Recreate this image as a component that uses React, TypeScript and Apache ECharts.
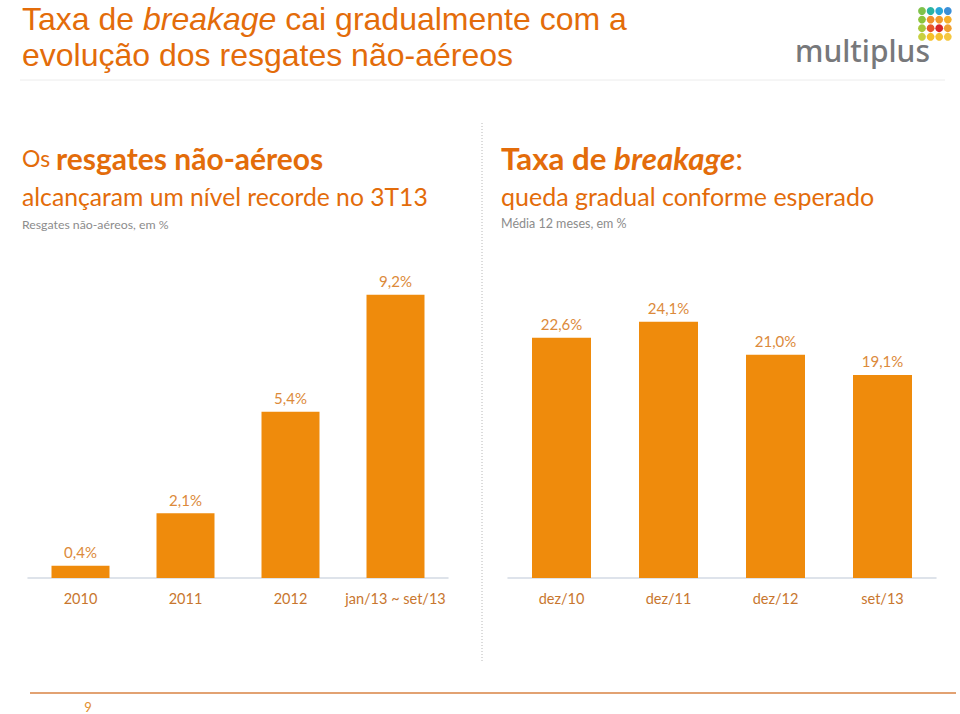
import React, { useEffect, useRef } from "react";
import * as echarts from "echarts";

const leftCategories = ["2010", "2011", "2012", "jan/13 ~ set/13"];
const leftValues = [0.4, 2.1, 5.4, 9.2];
const rightCategories = ["dez/10", "dez/11", "dez/12", "set/13"];
const rightValues = [22.6, 24.1, 21.0, 19.1];

const ORANGE = "#e36c0a";
const BAR = "#ef8b0c";
const LABEL = "#dc8a3a";
const AXISLABEL = "#c8762e";
const FONT = "Lato, 'Open Sans', sans-serif";

const logoRows = [
  ["#7fc24a", "#2ab3a3", "#28a6d8", "#3a8fd8"],
  ["#8cc43c", "#f0902a", "#f39a2a", "#f5b02a"],
  ["#a8c83a", "#e8562a", "#d8262a", "#f0a030"],
  ["#c8d040", "#f5c02a", "#f5c030", "#f5c840"],
];

const fmt = (p: any) => (p.value as number).toFixed(1).replace(".", ",") + "%";

export default function App() {
  const ref = useRef<HTMLDivElement>(null);
  useEffect(() => {
    document.body.style.margin = "0";
    const chart = echarts.init(ref.current!, null, { renderer: "svg" });
    const dots: any[] = [];
    logoRows.forEach((row, r) =>
      row.forEach((c, i) =>
        dots.push({
          type: "circle",
          shape: { cx: 922 + i * 8.6, cy: 11 + r * 8.6, r: 3.9 },
          style: { fill: c },
        })
      )
    );
    const xAxisCommon = {
      type: "category" as const,
      axisLine: { lineStyle: { color: "#d3dae4", width: 1.5 } },
      axisTick: { show: false },
      axisLabel: { color: AXISLABEL, fontSize: 14.5, fontFamily: FONT, margin: 13, interval: 0 },
    };
    chart.setOption({
      animation: false,
      backgroundColor: "#ffffff",
      grid: [
        { left: 28, width: 420, top: 270, height: 308 },
        { left: 508, width: 428, top: 259, height: 319 },
      ],
      xAxis: [
        { ...xAxisCommon, gridIndex: 0, data: leftCategories },
        { ...xAxisCommon, gridIndex: 1, data: rightCategories },
      ],
      yAxis: [
        { type: "value", gridIndex: 0, min: 0, max: 10, show: false },
        { type: "value", gridIndex: 1, min: 0, max: 30, show: false },
      ],
      series: [
        {
          type: "bar",
          xAxisIndex: 0,
          yAxisIndex: 0,
          data: leftValues,
          barWidth: 58,
          itemStyle: { color: BAR },
          label: { show: true, position: "top", distance: 6, formatter: fmt, color: LABEL, fontSize: 15, fontFamily: FONT },
        },
        {
          type: "bar",
          xAxisIndex: 1,
          yAxisIndex: 1,
          data: rightValues,
          barWidth: 59,
          itemStyle: { color: BAR },
          label: { show: true, position: "top", distance: 6, formatter: fmt, color: LABEL, fontSize: 15, fontFamily: FONT },
        },
      ],
      graphic: [
        {
          type: "text",
          style: {
            x: 22,
            y: 19,
            text: "{n|Taxa de }{i|breakage}{n| cai gradualmente com a}",
            textVerticalAlign: "middle",
            rich: {
              n: { fontFamily: "'Liberation Sans', Arial, sans-serif", fontSize: 32, fill: ORANGE },
              i: { fontFamily: "'Liberation Sans', Arial, sans-serif", fontSize: 32, fontStyle: "italic", fill: ORANGE },
            },
          },
        },
        {
          type: "text",
          style: {
            x: 22,
            y: 55,
            text: "evolução dos resgates não-aéreos",
            font: "32px 'Liberation Sans', Arial, sans-serif",
            fill: ORANGE,
            textVerticalAlign: "middle",
          },
        },
        {
          type: "text",
          style: {
            x: 795,
            y: 50,
            text: "multiplus",
            font: "500 30px 'Noto Sans', sans-serif",
            fill: "#77787b",
            textVerticalAlign: "middle",
          },
        },
        ...dots,
        {
          type: "line",
          shape: { x1: 20, y1: 80, x2: 945, y2: 80 },
          style: { stroke: "#ececec", lineWidth: 1 },
        },
        {
          type: "text",
          style: {
            x: 22,
            y: 158,
            text: "{n|Os }{b|resgates não-aéreos}",
            textVerticalAlign: "middle",
            rich: {
              n: { fontFamily: FONT, fontSize: 23, fill: ORANGE },
              b: { fontFamily: FONT, fontSize: 30, fontWeight: "bold", fill: ORANGE },
            },
          },
        },
        {
          type: "text",
          style: {
            x: 22,
            y: 196,
            text: "alcançaram um nível recorde no 3T13",
            font: `24.7px ${FONT}`,
            fill: ORANGE,
            textVerticalAlign: "middle",
          },
        },
        {
          type: "text",
          style: {
            x: 22,
            y: 224,
            text: "Resgates não-aéreos, em %",
            font: `12.3px ${FONT}`,
            fill: "#8c8c8c",
            textVerticalAlign: "middle",
          },
        },
        {
          type: "text",
          style: {
            x: 501,
            y: 158,
            text: "{b|Taxa de }{bi|breakage}{n|:}",
            textVerticalAlign: "middle",
            rich: {
              b: { fontFamily: FONT, fontSize: 31.3, fontWeight: "bold", fill: ORANGE },
              bi: { fontFamily: FONT, fontSize: 31.3, fontWeight: "bold", fontStyle: "italic", fill: ORANGE },
              n: { fontFamily: FONT, fontSize: 31.3, fill: ORANGE },
            },
          },
        },
        {
          type: "text",
          style: {
            x: 501,
            y: 196,
            text: "queda gradual conforme esperado",
            font: `25px ${FONT}`,
            fill: ORANGE,
            textVerticalAlign: "middle",
          },
        },
        {
          type: "text",
          style: {
            x: 501,
            y: 223,
            text: "Média 12 meses, em %",
            font: `12.5px ${FONT}`,
            fill: "#8c8c8c",
            textVerticalAlign: "middle",
          },
        },
        {
          type: "line",
          shape: { x1: 482, y1: 123, x2: 482, y2: 663 },
          style: { stroke: "#b8b8b8", lineWidth: 1, lineDash: [1, 2] },
        },
        {
          type: "line",
          shape: { x1: 30, y1: 693, x2: 956, y2: 693 },
          style: { stroke: "#e2a272", lineWidth: 2 },
        },
        {
          type: "text",
          style: {
            x: 88,
            y: 707,
            text: "9",
            font: `13px ${FONT}`,
            fill: "#e39030",
            textAlign: "center",
            textVerticalAlign: "middle",
          },
        },
      ],
    });
    return () => chart.dispose();
  }, []);
  return <div ref={ref} style={{ width: 960, height: 714 }} />;
}
